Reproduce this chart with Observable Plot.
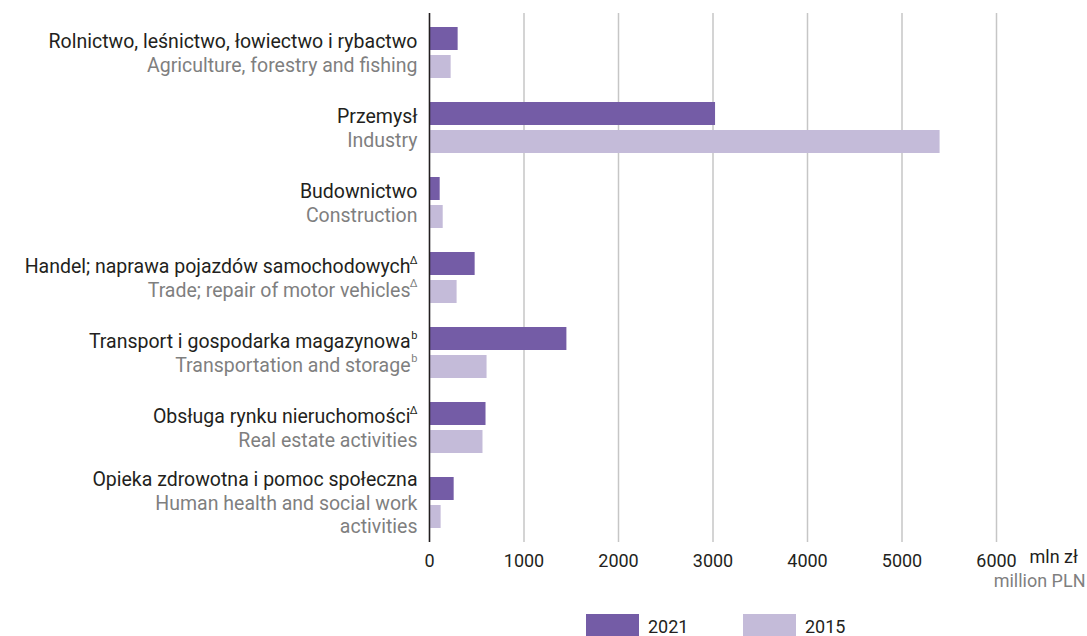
<!DOCTYPE html>
<html><head><meta charset="utf-8">
<script src="https://cdn.jsdelivr.net/npm/d3@7"></script>
<script src="https://cdn.jsdelivr.net/npm/@observablehq/plot@0.6"></script>
<style>
body{margin:0;background:#fff;font-family:Roboto,sans-serif;}
#legend{position:relative;height:30px;}
.item{position:absolute;top:8px;display:flex;align-items:center;font-size:18px;color:#231f20;}
.sw{width:53px;height:24px;margin-right:9px;}
</style></head><body>
<div id="chart"></div>
<div id="legend"></div>
<script>
const categories = ["agri", "industry", "construction", "trade", "transport", "realestate", "health"];
const labelsPl = ["Rolnictwo, leśnictwo, łowiectwo i rybactwo", "Przemysł", "Budownictwo", "Handel; naprawa pojazdów samochodowych", "Transport i gospodarka magazynowa", "Obsługa rynku nieruchomości", "Opieka zdrowotna i pomoc społeczna"];
const supPl = ["", "", "", "Δ", "b", "Δ", ""];
const labelsEn = ["Agriculture, forestry and fishing", "Industry", "Construction", "Trade; repair of motor vehicles", "Transportation and storage", "Real estate activities", "Human health and social work\nactivities"];
const supEn = ["", "", "", "Δ", "b", "", ""];
const years = ["2021", "2015"];
const values2021 = [303, 3027, 113, 483, 1454, 598, 261];
const values2015 = [229, 5403, 145, 292, 609, 566, 123];
const xTicks = [0, 1000, 2000, 3000, 4000, 5000, 6000];
const unitPl = "mln zł";
const unitEn = "million PLN";

const colors = ["#745ca6", "#c4bbd9"];
const FONT = "Roboto";
const FS = 19.5;
const LH = 22.8;

const bars = years.flatMap((yr, j) => categories.map((c, i) => ({cat: c, year: yr, value: (j === 0 ? values2021 : values2015)[i]})));

const labelMarks = categories.flatMap((c, i) => {
  const enLines = labelsEn[i].split("\n").length;
  const n = 1 + enLines;
  const plDy = -(n - 1) / 2 * LH;
  const enDy = plDy + LH + (enLines - 1) * LH / 2;
  const row = [{cat: c}];
  const marks = [
    Plot.text(row, {y: "cat", frameAnchor: "left", text: () => labelsPl[i], textAnchor: "end", dx: supPl[i] ? -19 : -12, dy: plDy, fill: "#231f20"}),
    Plot.text(row, {y: "cat", frameAnchor: "left", text: () => labelsEn[i], textAnchor: "end", dx: supEn[i] ? -19 : -12, dy: enDy, fill: "#7f7f7f", lineHeight: LH / FS})
  ];
  if (supPl[i]) marks.push(Plot.text(row, {y: "cat", frameAnchor: "left", text: () => supPl[i], textAnchor: "end", dx: -12, dy: plDy - 6, fontSize: 11, fill: "#231f20"}));
  if (supEn[i]) marks.push(Plot.text(row, {y: "cat", frameAnchor: "left", text: () => supEn[i], textAnchor: "end", dx: -12, dy: enDy - 6, fontSize: 11, fill: "#7f7f7f"}));
  return marks;
});

const chart = Plot.plot({
  width: 1087,
  height: 606,
  marginLeft: 429,
  marginRight: 91,
  marginTop: 13,
  marginBottom: 64,
  style: {fontFamily: FONT, fontSize: FS + "px", background: "#fff", color: "#231f20"},
  x: {domain: [0, 6000], axis: null},
  y: {domain: categories, paddingInner: 0.325, paddingOuter: 0.16, axis: null},
  marks: [
    Plot.gridX(xTicks, {stroke: "#c6c6c6", strokeOpacity: 1, strokeWidth: 1.5}),
    Plot.barX(bars.filter(d => d.year === years[0]), {x: "value", y: "cat", fill: colors[0], insetBottom: 28}),
    Plot.barX(bars.filter(d => d.year === years[1]), {x: "value", y: "cat", fill: colors[1], insetTop: 28}),
    Plot.ruleX([0], {stroke: "#231f20", strokeWidth: 1.5}),
    Plot.axisX(xTicks, {tickSize: 0, tickPadding: 12, fill: "#231f20", fontSize: 18, label: null, tickFormat: d => String(d)}),
    Plot.text([unitPl], {frameAnchor: "bottom-right", textAnchor: "start", dx: 33, dy: 20, fill: "#231f20", fontSize: 18}),
    Plot.text([unitEn], {frameAnchor: "bottom-right", textAnchor: "end", dx: 89, dy: 44, fill: "#7f7f7f", fontSize: 18}),
    ...labelMarks
  ]
});
document.getElementById("chart").append(chart);

const legend = document.getElementById("legend");
years.forEach((yr, j) => {
  const it = document.createElement("div");
  it.className = "item";
  it.style.left = (586 + j * 157) + "px";
  it.innerHTML = `<div class="sw" style="background:${colors[j]}"></div><span>${yr}</span>`;
  legend.append(it);
});
</script></body></html>
